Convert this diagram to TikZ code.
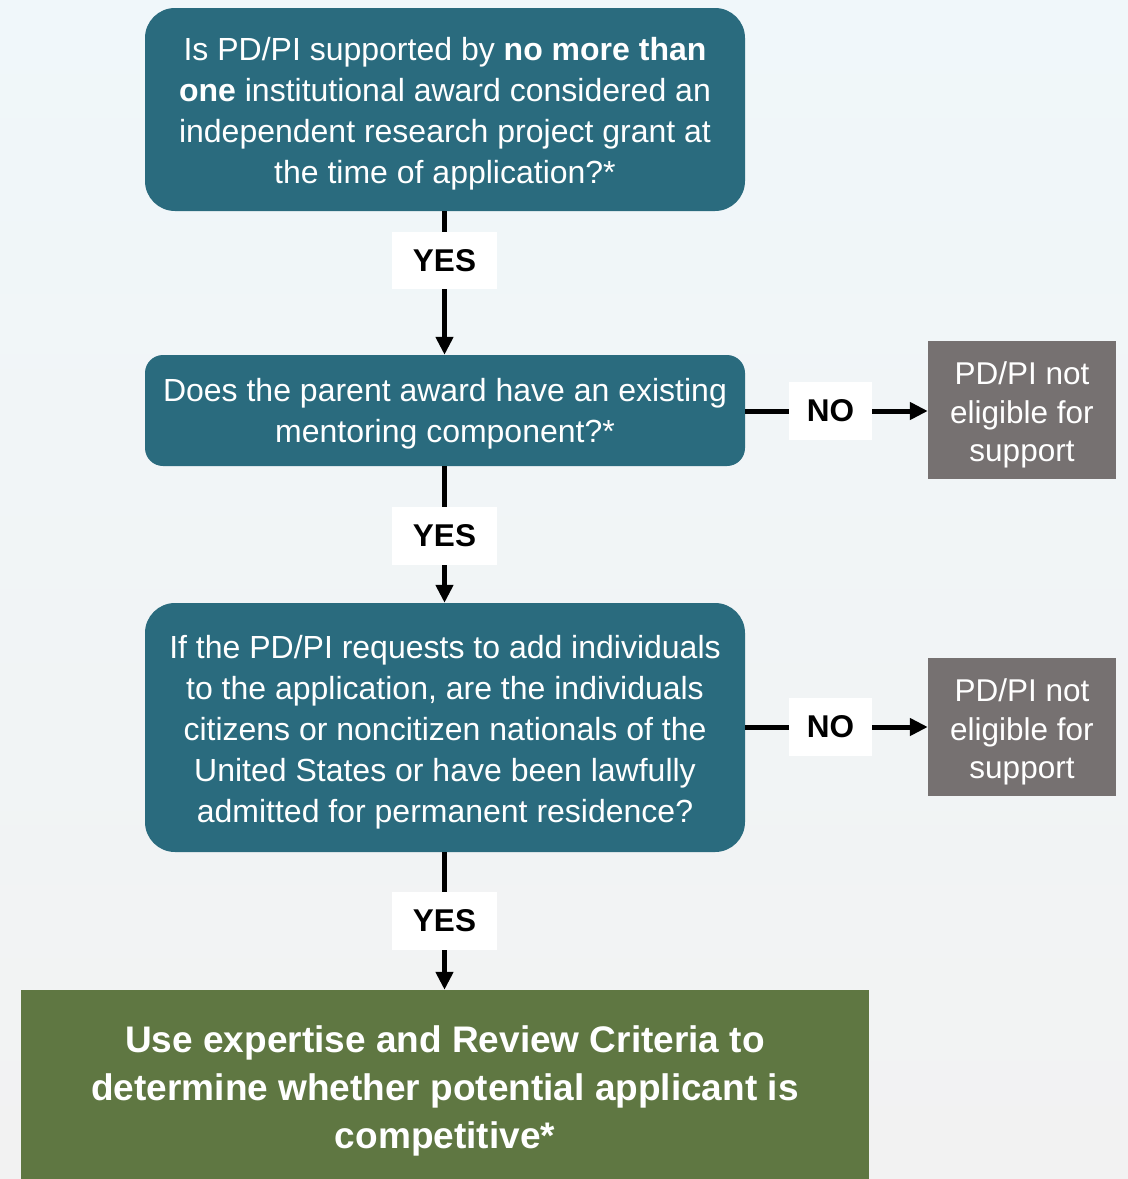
\documentclass[tikz,border=0pt]{standalone}
\usepackage{fontspec}
\setmainfont{Liberation Sans}
\usetikzlibrary{arrows.meta}
\definecolor{bgtop}{HTML}{F0F7FA}
\definecolor{bgbot}{HTML}{F2F2F2}
\definecolor{teal}{HTML}{2A6B7E}
\definecolor{graybox}{HTML}{767171}
\definecolor{greenbox}{HTML}{5F7742}
\tikzset{
  qbox/.style={fill=teal, inner sep=0pt},
  qtext/.style={text=white, inner sep=0pt, align=center,
    font=\fontsize{32}{41}\selectfont},
  endbox/.style={fill=graybox, inner sep=0pt,
    minimum width=188pt, minimum height=138pt},
  endtext/.style={text=white, inner sep=0pt, align=center,
    font=\fontsize{31.5}{38.5}\selectfont},
  lbl/.style={fill=white, inner sep=0pt, font=\bfseries\fontsize{31.5}{34}\selectfont},
  conn/.style={line width=5pt, draw=black},
  arr/.style={conn, -{Triangle[width=17pt,length=18pt]}},
}
\begin{document}
\begin{tikzpicture}[x=1pt,y=-1pt]
\useasboundingbox (0,0) rectangle (1128,1179);
\shade[top color=bgtop, bottom color=bgbot] (0,0) rectangle (1128,1179);

\node[qbox, minimum width=600pt, minimum height=203pt, rounded corners=30pt] (b1) at (445,109.5) {};
\node[qtext] (t1) at ([yshift=-4pt]b1.center)
  {Is PD/PI supported by \textbf{no more than}\\ \textbf{one} institutional award considered an\\ independent research project grant at\\ the time of application?*};
\node[qbox, minimum width=600pt, minimum height=111pt, rounded corners=18pt] (b2) at (445,410.5) {};
\node[qtext] (t2) at ([yshift=-3pt]b2.center)
  {Does the parent award have an existing\\ mentoring component?*};
\node[qbox, minimum width=600pt, minimum height=249pt, rounded corners=30pt] (b3) at (445,727.5) {};
\node[qtext] (t3) at ([yshift=-5pt]b3.center)
  {If the PD/PI requests to add individuals\\ to the application, are the individuals\\ citizens or noncitizen nationals of the\\ United States or have been lawfully\\ admitted for permanent residence?};
\node[endbox] (g1) at (1022,410) {};
\node[endtext] (gt1) at ([yshift=-5pt]g1.center) {PD/PI not\\ eligible for\\ support};
\node[endbox] (g2) at (1022,727) {};
\node[endtext] (gt2) at ([yshift=-5pt]g2.center) {PD/PI not\\ eligible for\\ support};
\node[fill=greenbox, inner sep=0pt, minimum width=848pt, minimum height=189pt] (fin) at (445,1084.5) {};
\node[text=white, inner sep=0pt, align=center,
  font=\bfseries\fontsize{37}{48}\selectfont] (ft) at ([yshift=-6pt]fin.center)
  {Use expertise and Review Criteria to\\ determine whether potential applicant is\\ competitive*};

\node[lbl, minimum width=105pt, minimum height=57pt] (y1) at (444.5,260.5) {YES};
\node[lbl, minimum width=105pt, minimum height=58pt] (y2) at (444.5,536) {YES};
\node[lbl, minimum width=105pt, minimum height=58pt] (y3) at (444.5,921) {YES};
\node[lbl, minimum width=83pt, minimum height=58pt] (n1) at (830.5,411) {NO};
\node[lbl, minimum width=83pt, minimum height=58pt] (n2) at (830.5,727) {NO};

\draw[conn] (b1.south -| y1) -- (y1.north);
\draw[arr] (y1.south) -- (b2.north -| y1);
\draw[conn] (b2.south -| y2) -- (y2.north);
\draw[arr] (y2.south) -- (b3.north -| y2);
\draw[conn] (b3.south -| y3) -- (y3.north);
\draw[arr] (y3.south) -- (fin.north -| y3);
\draw[conn] (b2.east |- n1) -- (n1.west);
\draw[arr] (n1.east) -- (g1.west |- n1);
\draw[conn] (b3.east |- n2) -- (n2.west);
\draw[arr] (n2.east) -- (g2.west |- n2);
\end{tikzpicture}
\end{document}
